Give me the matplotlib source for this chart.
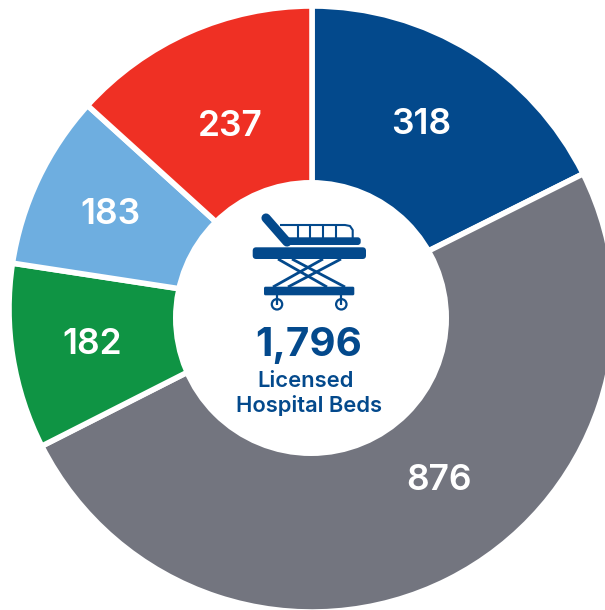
import matplotlib.pyplot as plt
from matplotlib.patches import Circle, FancyBboxPatch

plt.rcParams['font.family'] = ['Inter', 'DejaVu Sans']

# clockwise from 12 o'clock
beds = [318, 876, 182, 183, 237]
# slice sizes as measured on the picture, in degrees
slice_degrees = [63.5, 179.6, 35.6, 33.5, 47.8]
colors = ["#03498c", "#73757f", "#0f9444", "#6eaee0", "#ef3024"]
total_label = "1,796"
center_lines = ["Licensed", "Hospital Beds"]
navy = "#03498c"

W, H = 605, 610
fig = plt.figure(figsize=(W / 100, H / 100), dpi=100)
ax = fig.add_axes([0, 0, 1, 1])

# y axis is inverted, so counterclock in data runs clockwise on screen
ax.pie(slice_degrees, colors=colors, startangle=-90, counterclock=True,
       center=(312, 309), radius=303, frame=True,
       wedgeprops=dict(edgecolor="white", linewidth=4))
ax.set_xlim(0, W)
ax.set_ylim(H, 0)
ax.set_aspect("equal")
ax.axis("off")

# the hole sits a little below the centre of the pie
ax.add_patch(Circle((311, 318), 138, fc="white", ec="none", zorder=2))

# value labels
label_pos = [(421, 124), (439, 481), (92.5, 344), (110, 214), (230, 127)]
for v, (x, y) in zip(beds, label_pos):
    ax.text(x, y, str(v), color="white", fontsize=25.5, fontweight="semibold",
            ha="center", va="center", zorder=5)

# stretcher icon
def stroke(xs, ys, lw, cap="butt"):
    ax.plot(xs, ys, color=navy, lw=lw, solid_capstyle=cap, solid_joinstyle="round", zorder=4)

def bar(x0, y0, x1, y1, r):
    ax.add_patch(FancyBboxPatch((x0 + r, y0 + r), x1 - x0 - 2 * r, y1 - y0 - 2 * r,
                                boxstyle=f"round,pad={r},rounding_size={r}",
                                fc=navy, ec="none", zorder=4))

bar(252.7, 247.3, 366, 259, 3.5)       # main frame
bar(264, 286.7, 354.3, 295.3, 1.5)     # lower frame
bar(284, 237.3, 360.7, 245, 3)         # mattress
stroke([266, 287], [218, 242], 6.6, "round")   # raised back
stroke([280, 345, 350, 352.7, 352.7], [225, 225, 226, 230, 238], 1.5)  # rail
for x in [297.7, 310, 323.3, 335.7]:
    stroke([x, x], [225, 238], 1.5)

# scissor legs
stroke([323, 273], [259, 287], 2)
stroke([341, 288], [259, 287], 2)
stroke([278, 327], [259, 287], 2)
stroke([292, 345], [259, 287], 2)

for x in [277, 341.3]:
    stroke([x, x], [295, 304.5], 1.6)
    ax.add_patch(Circle((x, 304.3), 5.2, fc="none", ec=navy, lw=1.6, zorder=4))

ax.text(308.5, 356, total_label, color=navy, fontsize=29, fontweight="bold",
        ha="center", va="baseline", zorder=5)
ax.text(306, 387, center_lines[0], color=navy, fontsize=15.8, fontweight="semibold",
        ha="center", va="baseline", zorder=5)
ax.text(309, 412, center_lines[1], color=navy, fontsize=15.8, fontweight="semibold",
        ha="center", va="baseline", zorder=5)

fig.savefig("out.png", dpi=100)
